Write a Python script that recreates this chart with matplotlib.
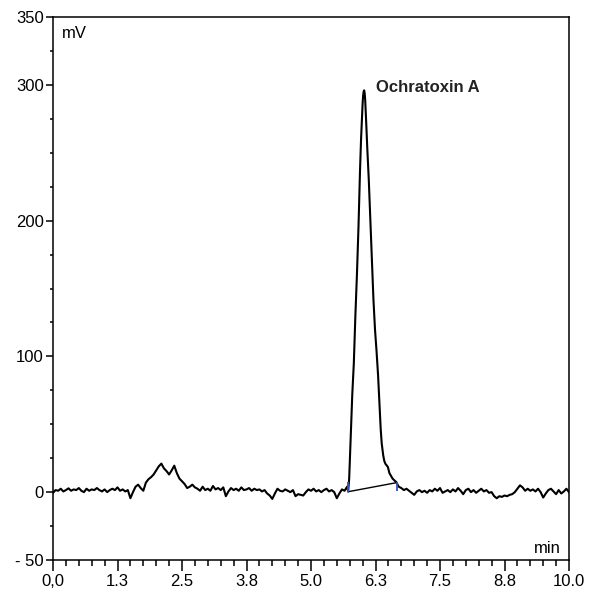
import numpy as np
import matplotlib
matplotlib.use('Agg')
import matplotlib.pyplot as plt
from matplotlib.ticker import MultipleLocator

plt.rcParams['font.family'] = ['Liberation Sans', 'DejaVu Sans']

# baseline before the peak, one reading every 0.05 min from 0.00 to 5.65
pre_start = 0.0
pre_mv = [-0.5, 1.5, 1.0, 2.5, 0.5, 1.5, 2.8, 1.0, 2.0, 1.5,
          3.0, 1.0, 0.0, 2.5, 1.0, 2.0, 1.5, 3.0, 1.5, 0.5,
          2.0, 0.0, 1.5, 2.5, 1.5, 3.5, 1.0, 2.0, 0.5, 1.5,
          -4.5, 0.0, 4.0, 5.5, 3.0, 1.0, 7.0, 9.5, 11.0, 13.0,
          16.0, 19.0, 21.0, 17.5, 15.5, 13.0, 16.0, 19.5, 14.0, 10.0,
          8.0, 6.0, 3.0, 4.0, 5.5, 3.5, 2.5, 1.0, 4.0, 1.5,
          2.5, 1.0, 4.5, 2.0, 3.0, 1.5, 3.5, -3.0, 0.5, 3.0,
          1.5, 2.5, 1.0, 3.5, 1.5, 2.0, 3.0, 1.0, 2.5, 1.5,
          2.0, 0.5, 1.5, -1.0, -2.5, -5.0, -1.0, 2.5, 1.0, 0.5,
          2.0, 1.0, 0.0, 1.5, -3.0, -1.5, -2.0, -2.5, 0.0, 2.0,
          1.0, 2.5, 0.5, 1.5, 0.0, 1.5, 2.5, 0.5, 1.5, 0.0,
          -4.5, -1.0, 2.0, 1.0]

# the Ochratoxin A peak
peak_t = [5.70, 5.72, 5.74, 5.76, 5.78, 5.80, 5.83, 5.86, 5.89, 5.92,
          5.95, 5.97, 5.99, 6.00, 6.01, 6.02, 6.03, 6.04, 6.05, 6.06,
          6.07, 6.09, 6.12, 6.15, 6.18, 6.21, 6.24, 6.27, 6.30, 6.33,
          6.35, 6.37, 6.40, 6.42, 6.44, 6.47, 6.49, 6.52, 6.55, 6.58,
          6.62, 6.65, 6.70]
peak_mv = [4.0, 0.5, 10, 30, 52, 72, 95, 130, 160, 195,
           237, 260, 278, 286, 292, 295, 296, 294, 289, 281,
           272, 254, 230, 200, 168, 142, 120, 104, 86, 62,
           47, 36, 27, 23, 21, 19.5, 18.5, 14, 12, 10,
           8.5, 7.5, 4.0]

# baseline after the peak, every 0.05 min from 6.75 to 10.00
post_start = 6.75
post_mv = [3.0, 1.5, 2.5, 1.0, -0.5, -2.0, 0.5, 1.5, 0.0, 1.0,
           -0.5, 1.5, 0.5, 2.5, 1.0, 3.0, -0.5, 0.5, 1.5, 0.0,
           2.0, 0.5, 3.0, 1.0, -1.5, 1.5, 2.5, 0.0, 1.5, -0.5,
           1.0, 2.5, 0.5, 1.5, -0.5, 0.0, -3.0, -4.5, -3.0, -3.5,
           -2.5, -3.0, -2.0, -1.5, 0.0, 2.5, 5.0, 3.5, 1.0, 2.5,
           1.0, 2.0, 0.5, 2.5, 0.0, -4.0, -1.0, 1.5, 2.5, 0.5,
           -1.5, 1.5, -1.0, 0.5, 2.5, 0.0]

# integration baseline and its start / end marks
base_t = [5.72, 6.66]
base_mv = [0.3, 7.0]
mark_lo = [0.3, 0.5]
mark_hi = [7.5, 7.6]

peak_name = 'Ochratoxin A'
xticks = [0, 1.25, 2.5, 3.75, 5.0, 6.25, 7.5, 8.75, 10.0]
xlabels = ['0,0', '1.3', '2.5', '3.8', '5.0', '6.3', '7.5', '8.8', '10.0']
yticks = [-50, 0, 100, 200, 300, 350]
ylabels = ['- 50', '0', '100', '200', '300', '350']

pre_t = pre_start + 0.05 * np.arange(len(pre_mv))
post_t = post_start + 0.05 * np.arange(len(post_mv))
t = np.concatenate([pre_t, peak_t, post_t])
mv = np.concatenate([pre_mv, peak_mv, post_mv])

fig = plt.figure(figsize=(5.9, 5.97), dpi=100)
ax = fig.add_axes([53 / 590, 37 / 597, 516 / 590, 543 / 597])

ax.plot(t, mv, color='black', lw=1.5, solid_joinstyle='round')
ax.plot(base_t, base_mv, color='black', lw=1.0)
ax.vlines(base_t, mark_lo, mark_hi, color='#3355bb', lw=1.3)

ax.text(6.26, 298, peak_name, fontsize=12, fontweight='bold', va='center', ha='left',
        color='#222222')
ax.text(0.017, 0.97, 'mV', transform=ax.transAxes, fontsize=12, va='center', ha='left')
ax.text(0.985, 0.022, 'min', transform=ax.transAxes, fontsize=12, va='center', ha='right')

ax.set_xlim(0, 10)
ax.set_ylim(-50, 350)
ax.set_xticks(xticks)
ax.set_xticklabels(xlabels)
ax.set_yticks(yticks)
ax.set_yticklabels(ylabels)
ax.xaxis.set_minor_locator(MultipleLocator(0.25))
ax.yaxis.set_minor_locator(MultipleLocator(25))
ax.tick_params(axis='x', which='major', length=8, width=1.1, labelsize=12, pad=2)
ax.tick_params(axis='x', which='minor', length=4, width=1.1)
ax.tick_params(axis='y', which='major', length=5, width=1.1, labelsize=12, pad=1.5)
ax.tick_params(axis='y', which='minor', length=2.5, width=1.1)
for s in ax.spines.values():
    s.set_linewidth(1.1)

fig.savefig('out.png', dpi=100)
